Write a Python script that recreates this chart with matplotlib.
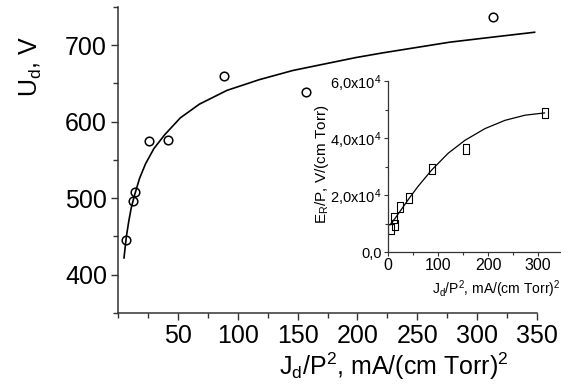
import matplotlib
matplotlib.use("Agg")
import matplotlib.pyplot as plt
from matplotlib.ticker import MultipleLocator, FixedLocator, FixedFormatter

# main plot: discharge voltage vs reduced current density
jd_main = [6.5, 12.8, 14.0, 25.8, 42.0, 88.6, 156.7, 313.0]
ud = [446, 497, 508, 575, 576, 660, 639, 737]

# fitted curve
fit_x = [5, 7, 9, 11, 14, 18, 23, 30, 39, 52, 68, 91, 118, 146, 174, 199,
         221, 249, 277, 304, 348]
fit_y = [422, 450, 470, 487, 505, 526, 545, 565, 583, 605, 623, 641, 655,
         667, 676, 684, 690, 697, 704, 709, 717]

# inset: reduced field vs reduced current density
jd_inset = [5.2, 13.3, 11.8, 24.6, 41.3, 87.5, 155.8, 313.0]
er = [7.9e3, 9.6e3, 12.0e3, 15.8e3, 19.0e3, 29.0e3, 36.0e3, 48.8e3]

inset_fit_x = [4, 15, 27, 43, 60, 87, 120, 154, 194, 234, 274, 313]
inset_fit_y = [0.95e4, 1.2e4, 1.5e4, 1.9e4, 2.3e4, 2.87e4, 3.46e4, 3.92e4,
               4.33e4, 4.62e4, 4.80e4, 4.88e4]

inset_yticks = [0, 2e4, 4e4, 6e4]
inset_ylabels = ["0,0", "2,0x10$\\mathregular{^4}$", "4,0x10$\\mathregular{^4}$",
                 "6,0x10$\\mathregular{^4}$"]

plt.rcParams['font.family'] = ['Liberation Sans', 'DejaVu Sans']
plt.rcParams['mathtext.fontset'] = 'custom'
plt.rcParams['mathtext.rm'] = 'Liberation Sans'
plt.rcParams['mathtext.it'] = 'Liberation Sans:italic'

spine_col = '#333333'

fig = plt.figure(figsize=(5.61, 3.85), dpi=100)
ax = fig.add_axes([118 / 561, 72 / 385, 419 / 561, 306 / 385])

ax.plot(fit_x, fit_y, color='black', lw=1.2)
ax.plot(jd_main, ud, ls='none', marker='o', ms=6.2, mfc='none', mec='black', mew=1.1)

ax.set_xlim(0, 350)
ax.set_ylim(350, 750)
ax.xaxis.set_major_locator(FixedLocator([50, 100, 150, 200, 250, 300, 350]))
ax.xaxis.set_minor_locator(MultipleLocator(25))
ax.yaxis.set_major_locator(FixedLocator([400, 500, 600, 700]))
ax.yaxis.set_minor_locator(MultipleLocator(50))
for s in ['top', 'right']:
    ax.spines[s].set_visible(False)
for s in ['left', 'bottom']:
    ax.spines[s].set_color(spine_col)
    ax.spines[s].set_linewidth(1.1)
ax.tick_params(which='major', direction='out', length=5, width=1.0,
               color=spine_col, labelsize=18, pad=3)
ax.tick_params(which='minor', direction='out', length=3.5, width=1.0, color=spine_col)

fig.text(394 / 561, 10 / 385, "J$\\mathregular{_d}$/P$\\mathregular{^2}$, mA/(cm Torr)$\\mathregular{^2}$",
         ha='center', va='baseline', fontsize=18)
fig.text(31 / 561, 1 - 66 / 385, "U$\\mathregular{_d}$, V", rotation=90,
         ha='center', va='center', fontsize=18)

# inset
ins = fig.add_axes([388 / 561, 133 / 385, 173 / 561, 171 / 385])
ins.patch.set_alpha(0)
ins.plot(inset_fit_x, inset_fit_y, color='black', lw=0.9)
rect = [(-0.7, -1), (0.7, -1), (0.7, 1), (-0.7, 1), (-0.7, -1)]
ins.plot(jd_inset, er, ls='none', marker=rect, ms=6.5, mfc='none', mec='black', mew=0.8)
ins.set_xlim(0, 346)
ins.set_ylim(0, 6e4)
ins.xaxis.set_major_locator(FixedLocator([0, 100, 200, 300]))
ins.xaxis.set_minor_locator(MultipleLocator(50))
ins.yaxis.set_major_locator(FixedLocator(inset_yticks))
ins.yaxis.set_major_formatter(FixedFormatter(inset_ylabels))
ins.yaxis.set_minor_locator(MultipleLocator(1e4))
for s in ['top', 'right']:
    ins.spines[s].set_visible(False)
for s in ['left', 'bottom']:
    ins.spines[s].set_color(spine_col)
    ins.spines[s].set_linewidth(0.9)
ins.tick_params(which='major', direction='out', length=3, width=0.8,
               color=spine_col, labelsize=11.5, pad=1.5)
ins.tick_params(which='minor', direction='out', length=2, width=0.8, color=spine_col)
for lab in ins.get_yticklabels():
    lab.set_fontsize(10.5)

fig.text(496 / 561, 1 - 289 / 385,
         "J$\\mathregular{_d}$/P$\\mathregular{^2}$, mA/(cm Torr)$\\mathregular{^2}$",
         ha='center', va='center', fontsize=10)
fig.text(322 / 561, 1 - 164 / 385, "E$\\mathregular{_R}$/P, V/(cm Torr)", rotation=90,
         ha='center', va='center', fontsize=11)

fig.savefig('out.png', dpi=100)
